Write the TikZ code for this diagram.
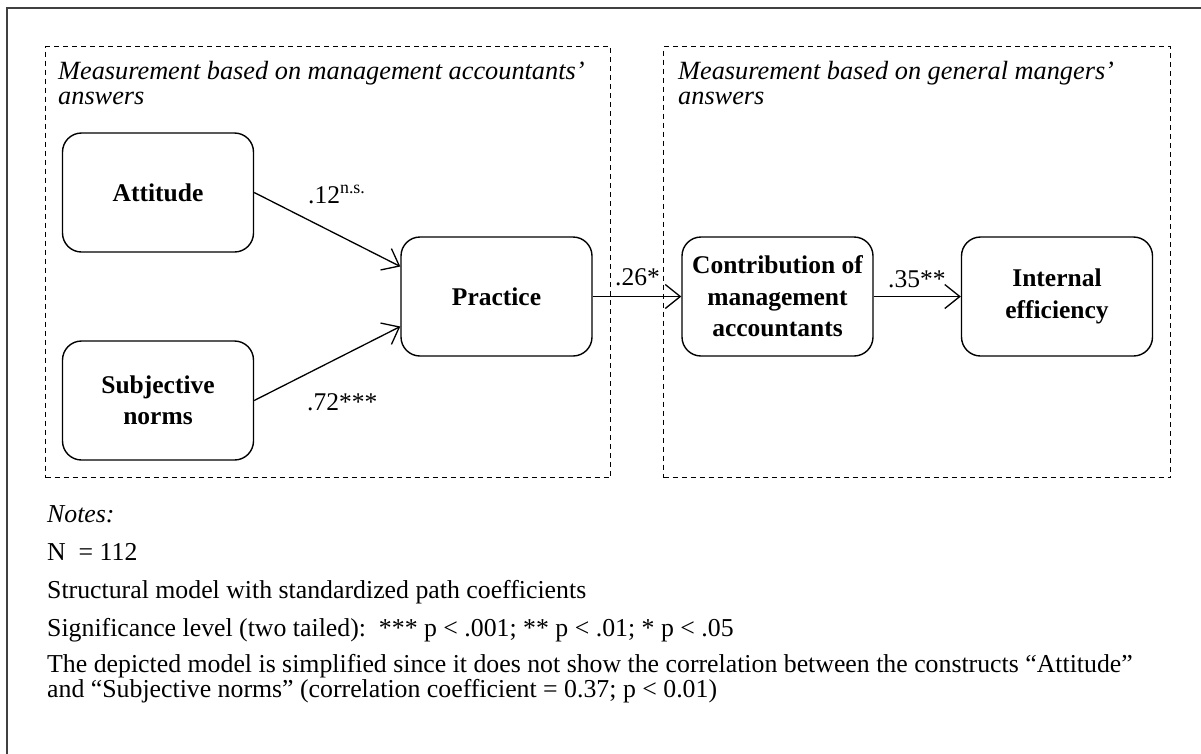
\documentclass[tikz,border=0pt]{standalone}
\usepackage{fontspec}
\setmainfont{Liberation Serif}
\usetikzlibrary{arrows.meta}
\begin{document}
\begin{tikzpicture}[x=1pt,y=-1pt,
  box/.style={draw, line width=1.4pt, rounded corners=19pt, minimum width=191pt, minimum height=119pt, align=center, font=\fontsize{25.5}{31.5}\selectfont\bfseries, inner sep=0pt},
  group/.style={draw, line width=1pt, dash pattern=on 5pt off 4pt, minimum height=431pt, anchor=north west, inner sep=0pt},
  arr/.style={line width=1.3pt, -{Straight Barb[length=15pt,width=24pt,line width=1.3pt]}},
  lab/.style={font=\fontsize{25.5}{30}\selectfont, anchor=base west, inner sep=0pt},
  note/.style={font=\fontsize{25.8}{30}\selectfont, anchor=base west, inner sep=0pt},
  head/.style={font=\fontsize{26.3}{26}\selectfont\itshape, anchor=base west, inner sep=0pt}]
\path[use as bounding box, fill=white] (0,0) rectangle (1201,753);
\draw[line width=2pt, black!75] (1210,8) -- (7,8) -- (7,760);

\node[group, minimum width=565pt] (g1) at (45,46) {};
\node[group, minimum width=507pt] (g2) at (663,46) {};
\node[head] (h1a) at (58,79) {Measurement based on management accountants’};
\node[head] (h1b) at (58,104) {answers};
\node[head] (h2a) at (678,79) {Measurement based on general mangers’};
\node[head] (h2b) at (678,104) {answers};

\node[box] (att) at (158,192.5) {Attitude};
\node[box] (sub) at (158,400.5) {Subjective\\norms};
\node[box] (pra) at (496.5,296.5) {Practice};
\node[box] (con) at (777.5,296.5) {Contribution of\\management\\accountants};
\node[box] (eff) at (1057,296.5) {Internal\\efficiency};

\coordinate (pin1) at ([yshift=30pt]pra.west);
\coordinate (pin2) at ([yshift=-30pt]pra.west);
\draw[arr] (att.east) -- (pin1);
\draw[arr] (sub.east) -- (pin2);
\draw[arr] (pra.east) -- (con.west);
\draw[arr] (con.east) -- (eff.west);

\node[lab] (l1) at (308,203) {.12\textsuperscript{n.s.}};
\node[lab] (l2) at (307,410) {.72***};
\node[lab] (l3) at (615,285) {.26*};
\node[lab] (l4) at (888,287) {.35**};

\node[note, font=\fontsize{25.8}{30}\selectfont\itshape] (n0) at (47,522) {Notes:};
\node[note] (n1) at (47,560) {N~~= 112};
\node[note] (n2) at (47,598) {Structural model with standardized path coefficients};
\node[note] (n3) at (47,636) {Significance level (two tailed):~~*** p < .001; ** p < .01; * p < .05};
\node[note] (n4) at (47,672) {The depicted model is simplified since it does not show the correlation between the constructs “Attitude”};
\node[note] (n5) at (47,697) {and “Subjective norms” (correlation coefficient = 0.37; p < 0.01)};
\end{tikzpicture}
\end{document}
